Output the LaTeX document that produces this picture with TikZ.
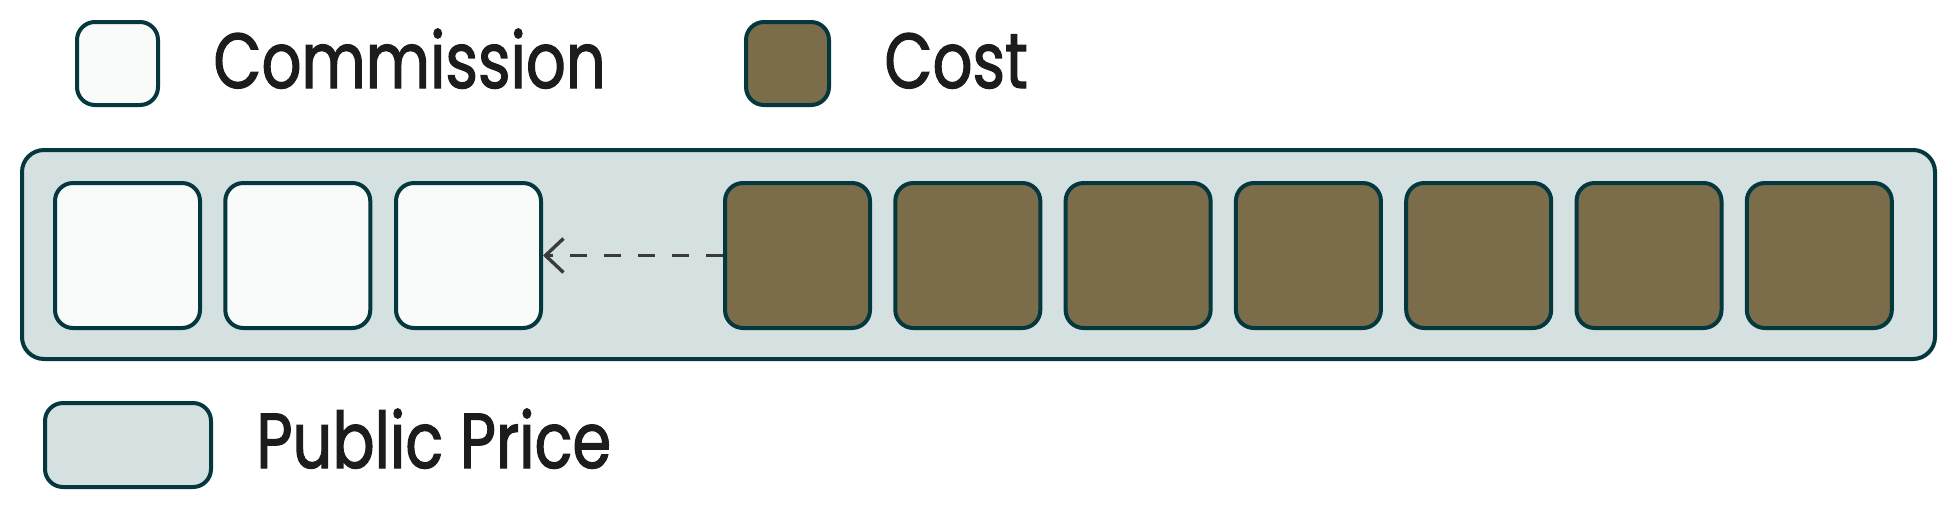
\documentclass[tikz,border=0pt]{standalone}
\usepackage{fontspec}
\setmainfont{Poppins}[FakeStretch=0.8,FakeBold=1.5]
\usetikzlibrary{arrows.meta}
\definecolor{edge}{HTML}{04383E}
\definecolor{comm}{HTML}{F8FBFA}
\definecolor{cost}{HTML}{7C6D4A}
\definecolor{price}{HTML}{D5E1E1}
\definecolor{ink}{HTML}{1C1C1C}
\definecolor{arr}{HTML}{3A3A3A}

\begin{document}
\begin{tikzpicture}[x=0.5pt,y=-0.5pt,
  tile/.style={draw=edge,line width=2pt,rounded corners=9pt,minimum width=72.5pt,minimum height=72.5pt,inner sep=0pt},
  lbl/.style={anchor=base west,text=ink,font=\fontsize{39}{44}\selectfont,inner sep=0pt}]
\useasboundingbox (0,0) rectangle (1957,510);

% legend
\node[tile,fill=comm,minimum width=40.5pt,minimum height=41.5pt] (lc) at (117.5,63.5) {};
\node[lbl] (tc) at (213,88) {Commission};
\node[tile,fill=cost,minimum width=41.5pt,minimum height=41.5pt] (lk) at (787.5,63.5) {};
\node[lbl] (tk) at (884,88) {Cost};

% public price
\draw[draw=edge,line width=2pt,fill=price,rounded corners=11pt] (22,150) rectangle (1935,359);
\node[tile,fill=price,minimum width=83pt,minimum height=42pt] (lp) at (128,445) {};
\node[lbl] (tp) at (256,468) {Public Price};

% commission
\node[tile,fill=comm] (c1) at (127.5,255.5) {};
\node[tile,fill=comm] (c2) at (297.8,255.5) {};
\node[tile,fill=comm] (c3) at (468.5,255.5) {};

% cost
\foreach \i in {1,...,7}
  \node[tile,fill=cost] (k\i) at ({797.5+(\i-1)*170.3},255.5) {};

\draw[arr,line width=1.7pt,dash pattern=on 8.5pt off 8.5pt,-{Straight Barb[length=9pt,width=17pt,line width=1.7pt]}] (k1.west) -- (c3.east);
\end{tikzpicture}
\end{document}
